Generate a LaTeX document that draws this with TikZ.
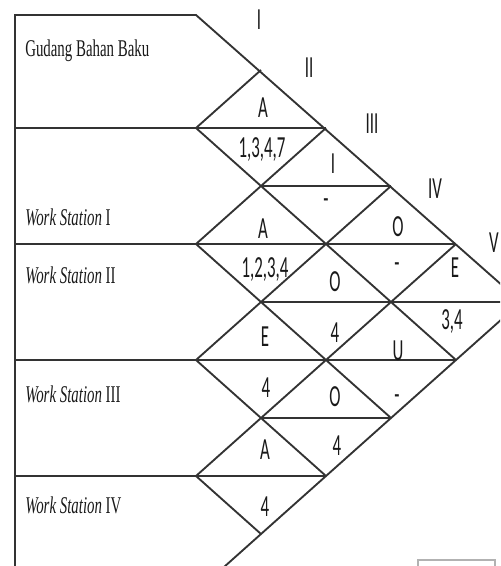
\documentclass[tikz,border=0pt]{standalone}
\usepackage{fontspec}
\newfontfamily\rowfont[FakeStretch=0.62]{Liberation Serif}
\newfontfamily\cellfont[FakeStretch=0.55]{Carlito}
\tikzstyle{gridline}=[line width=1.4pt,draw=black!80]
\tikzstyle{rowname}=[
        anchor=base west,
        inner sep=0pt,
        text=black!90,
        font=\rowfont\fontsize{18}{20}\selectfont
]
\tikzstyle{cell}=[
        inner sep=0pt,
        text height=14.8pt,
        text depth=0pt,
        text=black!90,
        font=\cellfont\fontsize{23}{25}\selectfont
]
\tikzstyle{header}=[cell]

\begin{document}
\begin{tikzpicture}[x=0.75pt,y=-0.75pt]
\clip (0,0) rectangle (500,566);
%kerangka
\draw[gridline] (15,600) -- (15,15) -- (196,15) -- (521,302);
\foreach \v/\m in {2/2,4/4,6/4,8/2}
  \draw[gridline] (15,12+58*\v) -- (196+65*\m,12+58*\v);
\foreach \v/\m in {3/3,5/5,7/3}
  \draw[gridline] (196+65,12+58*\v) -- (196+65*\m,12+58*\v);
\foreach \k in {1,...,4}
  \draw[gridline] (196,12+116*\k) -- ++(65*5-65*\k,58*5-58*\k);
\foreach \k in {1,...,5}
  \draw[gridline] (196,12+116*\k) -- ++(65*\k,-58*\k);
\draw[gray!60,line width=0.8pt] (418,570) -- (418,560) -- (495,560) -- (495,570);
\node[rowname] (gbb) at (25,57) {Gudang Bahan Baku};
\node[rowname] (ws1) at (25,225) {\itshape Work Station\upshape\ I};
\node[rowname] (ws2) at (25,283) {\itshape Work Station\upshape\ II};
\node[rowname] (ws3) at (25,402) {\itshape Work Station\upshape\ III};
\node[rowname] (ws4) at (25,513) {\itshape Work Station\upshape\ IV};
\node[header] (h1) at (259,20) {I};
\node[header] (h2) at (309,68) {II};
\node[header] (h3) at (372,124) {III};
\node[header] (h4) at (435,189) {IV};
\node[header] (h5) at (494,243) {V};
\node[cell] (c12a) at (263,108) {A};
\node[cell] (c12b) at (262,148) {1,3,4,7};
\node[cell] (c13a) at (333,164) {I};
\node[cell] (c13b) at (326,199) {-};
\node[cell] (c14a) at (398,227) {O};
\node[cell] (c14b) at (397,263) {-};
\node[cell] (c15a) at (455,268) {E};
\node[cell] (c15b) at (452,320) {3,4};
\node[cell] (c23a) at (263,229) {A};
\node[cell] (c23b) at (265,268) {1,2,3,4};
\node[cell] (c24a) at (335,282) {O};
\node[cell] (c24b) at (335,333) {4};
\node[cell] (c25a) at (398,351) {U};
\node[cell] (c25b) at (397,395) {-};
\node[cell] (c34a) at (265,337) {E};
\node[cell] (c34b) at (266,388) {4};
\node[cell] (c35a) at (335,397) {O};
\node[cell] (c35b) at (337,446) {4};
\node[cell] (c45a) at (265,450) {A};
\node[cell] (c45b) at (265,507) {4};
\end{tikzpicture}
\end{document}
